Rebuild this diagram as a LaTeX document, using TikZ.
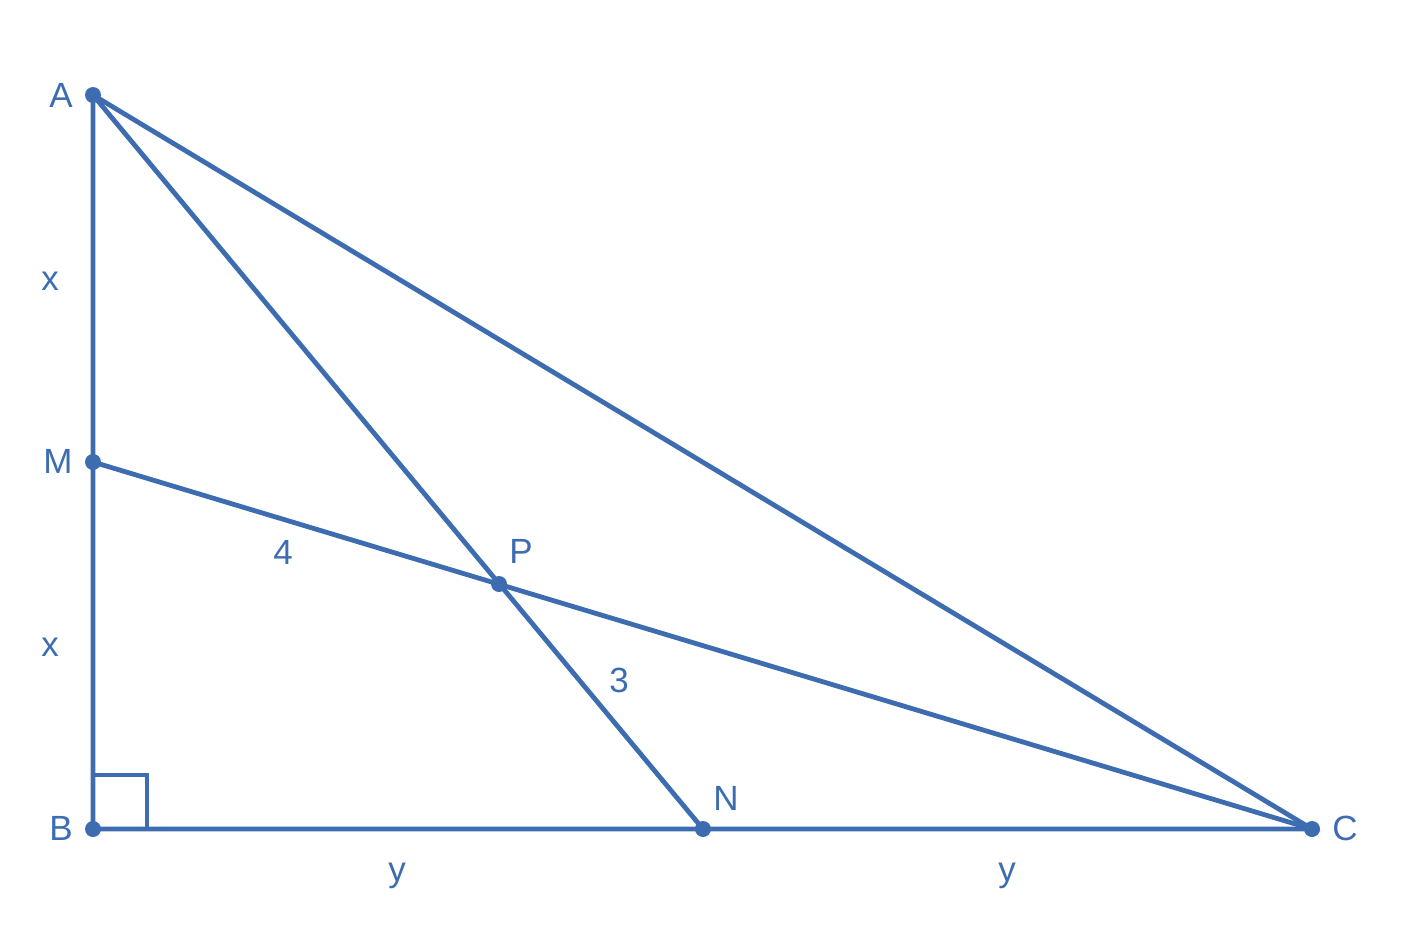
\documentclass[tikz,border=0pt]{standalone}
\usepackage{fontspec}
\setmainfont{Liberation Sans}
\usetikzlibrary{positioning,calc}
\definecolor{geoblue}{HTML}{3D6DB0}

\begin{document}
\begin{tikzpicture}[x=0.5pt,y=-0.5pt,
		lab/.style={font=\fontsize{17.5}{21}\selectfont,text=geoblue,inner sep=0pt},
		seg/.style={draw=geoblue,line width=2.4pt},
		dot/.style={circle,fill=geoblue,inner sep=0pt,minimum size=8pt}
		]
		\useasboundingbox (0,0) rectangle (1406,932);
		
		% --- Vertices and points
		\node[dot] (A) at (93,95) {};
		\node[dot] (M) at (93,462) {};
		\node[dot] (B) at (93,829) {};
		\node[dot] (N) at (703,829) {};
		\node[dot] (C) at (1312,829) {};
		\node[dot] (P) at (499,584) {};
		
		% --- Sides and medians
		\draw[seg] (A.center) -- (B.center) -- (C.center) -- cycle;
		\draw[seg] (A.center) -- (N.center);
		\draw[seg] (M.center) -- (C.center);
		
		% --- Right angle mark
		\draw[seg] ($(B.center)+(0,-54)$) -- ++(54,0) -- ++(0,54);
		
		% --- Point labels
		\node[lab] at (61,95) {A};
		\node[lab] at (58,461) {M};
		\node[lab] at (61,828) {B};
		\node[lab] at (521,551) {P};
		\node[lab] at (726,798) {N};
		\node[lab] at (1345,828) {C};
		
		% --- Lengths
		\node[lab] at (50,281) {x};
		\node[lab] at (50,647) {x};
		\node[lab] at (283,552) {4};
		\node[lab] at (619,680) {3};
		\node[lab] at (397,876) {y};
		\node[lab] at (1007,876) {y};
		
	\end{tikzpicture}
\end{document}
